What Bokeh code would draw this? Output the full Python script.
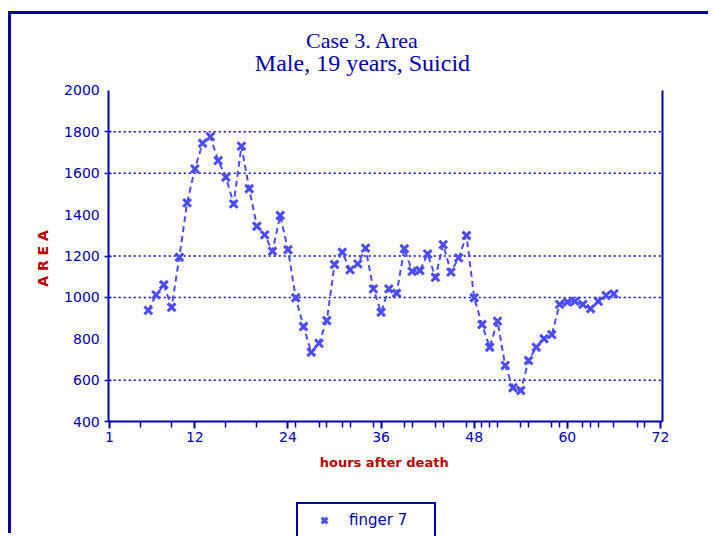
import math
from bokeh.plotting import figure
from bokeh.models import Range1d, LinearAxis, FixedTicker, Label, Legend, LegendItem
from bokeh.embed import file_html
from bokeh.resources import INLINE

# ---- data ----
hours = [6, 7, 8, 9, 10, 11, 12, 13, 14, 15, 16, 17, 18, 19, 20, 21, 22, 23, 24, 25,
         26, 27, 28, 29, 30, 31, 32, 33, 34, 35, 36, 37, 38, 39, 40, 41, 42, 43, 44, 45,
         46, 47, 48, 49, 50, 51, 52, 53, 54, 55, 56, 57, 58, 59, 60, 61, 62, 63, 64, 65, 66]
area = [937, 1012, 1061, 952, 1194, 1457, 1621, 1745, 1777, 1661, 1581, 1452, 1731, 1525,
        1344, 1302, 1223, 1396, 1230, 998, 859, 735, 778, 888, 1159, 1218, 1133, 1162,
        1238, 1041, 928, 1041, 1020, 1235, 1126, 1130, 1210, 1097, 1255, 1122, 1191, 1299,
        998, 869, 759, 885, 671, 563, 550, 695, 759, 800, 820, 966, 977, 981, 966, 945,
        981, 1009, 1017]
x_ticks = [1, 12, 24, 36, 48, 60, 72]
x_minor_ticks = [5, 9, 16, 20, 25, 28, 29, 31, 32, 35, 39, 40, 43, 44, 47, 49, 50, 51,
                 54, 55, 58, 59, 62, 63, 64, 66, 69, 70]
y_ticks = [400, 600, 800, 1000, 1200, 1400, 1600, 1800, 2000]
y_marked = [400, 600, 1000, 1200, 1600, 1800]
y_grid = [600, 1000, 1200, 1600, 1800]
series_name = "finger 7"
title1 = "Case 3. Area"
title2 = "Male, 19 years, Suicid"
x_title = "hours after death"
y_title = "A R E A"

X_MIN, X_MAX = 0.9, 72.3
Y_MIN, Y_MAX = 400, 2000

DARK = "#0000a8"
DATA = "#4b4bff"
RED = "#b80000"

p = figure(width=700, height=522, x_range=Range1d(-11.63, 78.58), y_range=Range1d(-155.8, 2367.3),
           output_backend="svg", toolbar_location=None, x_axis_location=None, y_axis_location=None,
           min_border_left=0, min_border_right=0, min_border_top=0, min_border_bottom=0)
p.styles = {"margin-left": "8px", "margin-top": "11px",
            "border-top": "3px solid #0000a0", "border-left": "3px solid #0000a0"}
p.outline_line_color = None
p.background_fill_color = "white"
p.border_fill_color = "white"
p.xgrid.visible = False
p.ygrid.visible = False

# x axis, drawn at the bottom of the value range
xa = LinearAxis(fixed_location=Y_MIN, bounds=(X_MIN, X_MAX))
xa.ticker = FixedTicker(ticks=x_ticks, minor_ticks=x_minor_ticks)
xa.axis_line_color = DARK
xa.axis_line_width = 2
xa.major_tick_line_color = DARK
xa.major_tick_line_width = 2
xa.major_tick_in = 0
xa.major_tick_out = 7
xa.minor_tick_line_color = DARK
xa.minor_tick_line_width = 1.5
xa.minor_tick_in = 0
xa.minor_tick_out = 6
xa.major_label_text_color = DARK
xa.major_label_text_font = "DejaVu Sans"
xa.major_label_text_font_size = "14px"
xa.major_label_standoff = 3
p.add_layout(xa, "below")

# y axis at the left end of the hour range
ya = LinearAxis(fixed_location=X_MIN, bounds=(Y_MIN, Y_MAX))
ya.ticker = FixedTicker(ticks=y_ticks, minor_ticks=y_marked)
ya.axis_line_color = DARK
ya.axis_line_width = 2
ya.major_tick_line_color = None
ya.major_tick_in = 0
ya.major_tick_out = 4
ya.minor_tick_line_color = DARK
ya.minor_tick_line_width = 1.5
ya.minor_tick_in = 3
ya.minor_tick_out = 4
ya.major_label_text_color = DARK
ya.major_label_text_font = "DejaVu Sans"
ya.major_label_text_font_size = "14px"
ya.major_label_standoff = 5
p.add_layout(ya, "left")

# right spine
ra = LinearAxis(fixed_location=X_MAX, ticker=FixedTicker(ticks=[]), bounds=(Y_MIN, Y_MAX),
                axis_line_color=DARK, axis_line_width=2, major_tick_line_color=None,
                minor_tick_line_color=None, major_label_text_font_size="0px")
p.add_layout(ra, "right")

# dotted grid lines between the two spines
p.segment(x0=[X_MIN] * len(y_grid), y0=y_grid, x1=[X_MAX] * len(y_grid), y1=y_grid,
          line_color=DARK, line_width=1.5, line_dash="2 3")

# data
p.line(hours, area, line_color=DATA, line_width=2, line_dash="6 4")
sc = p.scatter(hours, area, marker="x", size=11, line_color=DATA, line_width=3)

# titles
p.add_layout(Label(x=33.6, y=2242, text=title1, text_align="center", text_baseline="middle",
                   text_font="Liberation Serif", text_font_size="22px", text_color=DARK))
p.add_layout(Label(x=33.6, y=2135, text=title2, text_align="center", text_baseline="middle",
                   text_font="Liberation Serif", text_font_size="24px", text_color=DARK))

# axis titles
p.add_layout(Label(x=36.4, y=202, text=x_title, text_align="center", text_baseline="middle",
                   text_font="DejaVu Sans", text_font_style="bold", text_font_size="13px",
                   text_color=RED))
p.add_layout(Label(x=-7.6, y=1188, text=y_title, text_align="center", text_baseline="middle",
                   angle=math.pi / 2, text_font="DejaVu Sans", text_font_style="bold",
                   text_font_size="14px", text_color=RED))

# legend
leg = Legend(items=[LegendItem(label=series_name, renderers=[sc])], location=(285, -2),
             padding=6, glyph_width=40, glyph_height=20, label_standoff=5, label_width=79,
             border_line_color=DARK, border_line_width=2, border_line_alpha=1.0,
             background_fill_alpha=1,
             label_text_font="DejaVu Sans", label_text_font_size="15px", label_text_color=DARK,
             margin=0)
p.add_layout(leg, "center")

open("out.html", "w").write(file_html(p, INLINE))
